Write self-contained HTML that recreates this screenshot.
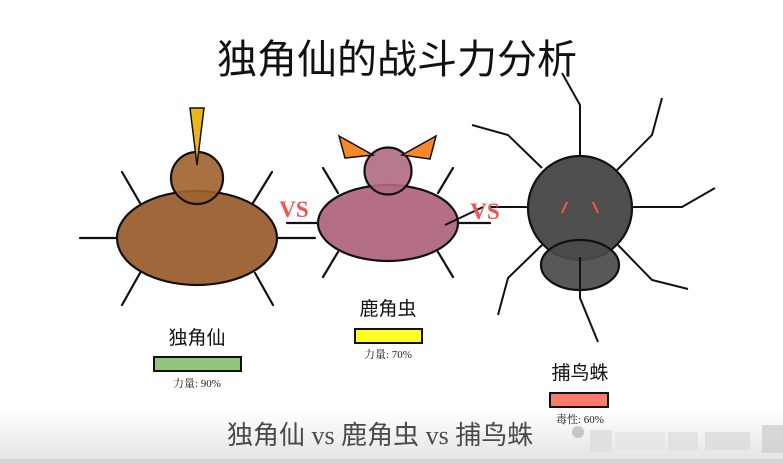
<!DOCTYPE html>
<html><head><meta charset="utf-8"><style>
html,body{margin:0;padding:0;background:#fff;}
svg{display:block;}
</style></head><body>
<svg width="783" height="464" viewBox="0 0 783 464" xmlns="http://www.w3.org/2000/svg">
<defs>
<linearGradient id="bg" x1="0" y1="0" x2="0" y2="1">
<stop offset="0" stop-color="#ffffff"/>
<stop offset="1" stop-color="#e2e2e2"/>
</linearGradient>
</defs>
<rect x="0" y="410" width="783" height="54" fill="url(#bg)"/>
<rect x="0" y="459" width="783" height="5" fill="#d4d4d4"/>

<text x="397" y="73" text-anchor="middle" font-family="'Noto Sans CJK SC',sans-serif" font-size="40" fill="#111">独角仙的战斗力分析</text>

<g stroke="#111" stroke-width="2.2" fill="none" stroke-linecap="round">
<line x1="80" y1="238" x2="117" y2="238"/>
<line x1="277" y1="238" x2="315" y2="238"/>
<line x1="122" y1="172" x2="140" y2="203"/>
<line x1="272" y1="172" x2="253" y2="203"/>
<line x1="140" y1="273" x2="122" y2="305"/>
<line x1="255" y1="273" x2="273" y2="305"/>
<line x1="287" y1="223" x2="318" y2="223"/>
<line x1="458" y1="223" x2="490" y2="223"/>
<line x1="323" y1="168" x2="338" y2="193"/>
<line x1="453" y1="168" x2="438" y2="193"/>
<line x1="338" y1="252" x2="323" y2="277"/>
<line x1="438" y1="252" x2="453" y2="277"/>
</g>

<ellipse cx="197" cy="238" rx="80" ry="47" fill="#a0683a" stroke="#111" stroke-width="2.2"/>
<circle cx="197" cy="178" r="26" fill="#a0622e" fill-opacity="0.9" stroke="#111" stroke-width="2.2"/>
<polygon points="190,108 204,108 197,165" fill="#e8b818" stroke="#111" stroke-width="1.5"/>
<text x="197" y="344" text-anchor="middle" font-family="'Noto Sans CJK SC',sans-serif" font-size="19" fill="#111">独角仙</text>
<rect x="154" y="357" width="87" height="14" fill="#93c47d" stroke="#111" stroke-width="2"/>
<text x="197" y="387" text-anchor="middle" font-family="'Liberation Serif','Noto Serif CJK SC',serif" font-size="11" fill="#222">力量: 90%</text>

<text x="294" y="217" text-anchor="middle" font-family="'Liberation Serif',serif" font-weight="bold" font-size="23" fill="#ee5555">VS</text>

<ellipse cx="388" cy="223" rx="70" ry="38" fill="#b46e86" stroke="#111" stroke-width="2.2"/>
<circle cx="388" cy="171" r="23.5" fill="#b06a82" fill-opacity="0.9" stroke="#111" stroke-width="2.2"/>
<polygon points="339,136 345,158 373,155" fill="#f7882a" stroke="#111" stroke-width="1.5"/>
<polygon points="436,136 430,159 402,155" fill="#f7882a" stroke="#111" stroke-width="1.5"/>
<text x="388" y="315" text-anchor="middle" font-family="'Noto Sans CJK SC',sans-serif" font-size="19" fill="#111">鹿角虫</text>
<rect x="355" y="329" width="67" height="14" fill="#ffff22" stroke="#111" stroke-width="2"/>
<text x="388" y="358" text-anchor="middle" font-family="'Liberation Serif','Noto Serif CJK SC',serif" font-size="11" fill="#222">力量: 70%</text>

<g stroke="#111" stroke-width="2" fill="none">
<polyline points="580,157 580,105 562,73"/>
<polyline points="617,170 652,135 662,98"/>
<polyline points="632,207 682,207 715,188"/>
<polyline points="528,207 490,207"/>
<polyline points="542,168 508,135 472,125"/>
<polyline points="542,245 508,278 498,315"/>
<polyline points="618,245 652,280 688,289"/>
<polyline points="445,225 483,207"/>
</g>
<text x="485" y="219" text-anchor="middle" font-family="'Liberation Serif',serif" font-weight="bold" font-size="23" fill="#ee5555">VS</text>
<circle cx="580" cy="208" r="52" fill="#4f4f4f" stroke="#111" stroke-width="2.2"/>
<ellipse cx="580" cy="265" rx="39" ry="25" fill="#4a4a4a" fill-opacity="0.92" stroke="#111" stroke-width="2.2"/>
<polyline points="580,257 580,298 598,342" stroke="#111" stroke-width="2" fill="none"/>
<line x1="567" y1="202" x2="562" y2="213" stroke="#f05a4a" stroke-width="2"/>
<line x1="593" y1="202" x2="598" y2="213" stroke="#f05a4a" stroke-width="2"/>
<text x="580" y="379" text-anchor="middle" font-family="'Noto Sans CJK SC',sans-serif" font-size="19" fill="#111">捕鸟蛛</text>
<rect x="550" y="393" width="58" height="14" fill="#fa7a6e" stroke="#111" stroke-width="2"/>
<text x="580" y="423" text-anchor="middle" font-family="'Liberation Serif','Noto Serif CJK SC',serif" font-size="11" fill="#222">毒性: 60%</text>

<text x="227" y="444" font-family="'Liberation Serif','Noto Sans CJK SC',sans-serif" font-size="26" fill="#4a4a4a"><tspan font-family="'Noto Sans CJK SC',sans-serif">独角仙</tspan> vs <tspan font-family="'Noto Sans CJK SC',sans-serif">鹿角虫</tspan> vs <tspan font-family="'Noto Sans CJK SC',sans-serif">捕鸟蛛</tspan></text>

<g opacity="0.8">
<circle cx="578" cy="432" r="6" fill="#bbb"/>
<rect x="590" y="430" width="22" height="22" fill="#ddd"/>
<rect x="615" y="432" width="50" height="18" fill="#e6e6e6"/>
<rect x="668" y="432" width="30" height="18" fill="#e0e0e0"/>
<rect x="705" y="432" width="45" height="18" fill="#dcdcdc"/>
<rect x="762" y="425" width="21" height="28" fill="#cfcfcf"/>
</g>
</svg>
</body></html>
